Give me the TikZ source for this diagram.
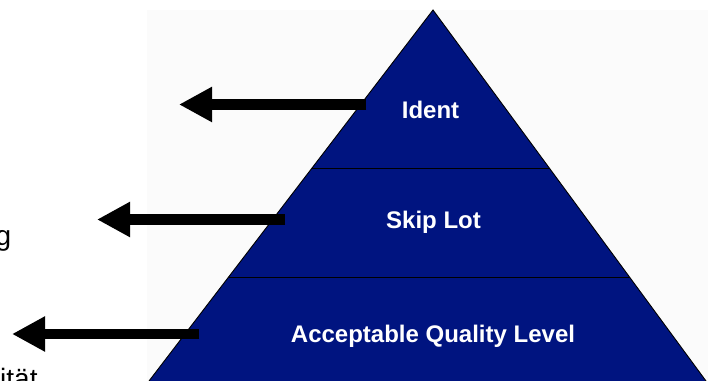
\documentclass[tikz,border=0pt]{standalone}
\usepackage{fontspec}
\setmainfont{Liberation Sans}
\usetikzlibrary{arrows.meta,calc}
\definecolor{pyrblue}{RGB}{0,20,128}
\definecolor{bgfaint}{RGB}{251,251,251}
\tikzset{
  layerlabel/.style={text=white, font=\fontsize{24}{28}\selectfont\bfseries, inner sep=0pt, anchor=base},
  sidetext/.style={text=black, font=\fontsize{28}{32}\selectfont, inner sep=0pt, anchor=base west},
  bigarrow/.style={line width=10.5pt, line cap=butt, -{Triangle[length=33pt,width=33pt]}},
  divider/.style={draw=black, line width=1.5pt}
}
\begin{document}
\begin{tikzpicture}[x=1pt,y=1pt]
\useasboundingbox (0,0) rectangle (708,380);
\clip (0,0) rectangle (708,380);
% faint background panel
\fill[bgfaint] (147,0) rectangle (708,370);
% pyramid
\coordinate (apex) at (433,370);
\coordinate (bl) at (149,-1);
\coordinate (br) at (706,-1);
\fill[pyrblue] (apex) -- (br) -- (bl) -- cycle;
% layer dividers
\coordinate (d1l) at (311.5,211.5);
\coordinate (d1r) at (550,211.5);
\coordinate (d2l) at (228.5,102.5);
\coordinate (d2r) at (630,102.5);
\draw[divider] (d1l) -- (d1r);
\draw[divider] (d2l) -- (d2r);
\draw[black, line width=0.9pt, line join=miter] (bl) -- (apex) -- (br);
% labels
\node[layerlabel] (ident) at (430.5,261) {Ident};
\node[layerlabel] (skip) at (433.5,151) {Skip Lot};
\node[layerlabel] (aql) at (433,38) {Acceptable Quality Level};
% arrows
\coordinate (a1s) at (366,275.5);
\coordinate (a1e) at (179,275.5);
\coordinate (a2s) at (285,160.5);
\coordinate (a2e) at (97,160.5);
\coordinate (a3s) at (199,46);
\coordinate (a3e) at (12,46);
\draw[bigarrow] (a1s) -- (a1e);
\draw[bigarrow] (a2s) -- (a2e);
\draw[bigarrow] (a3s) -- (a3e);
% cut-off side texts (cut at the edge as in the reference)
\node[sidetext] (t1) at (-4.7,134) {g};
\node[sidetext] (t2) at (0,-8) {ität};
\end{tikzpicture}
\end{document}
